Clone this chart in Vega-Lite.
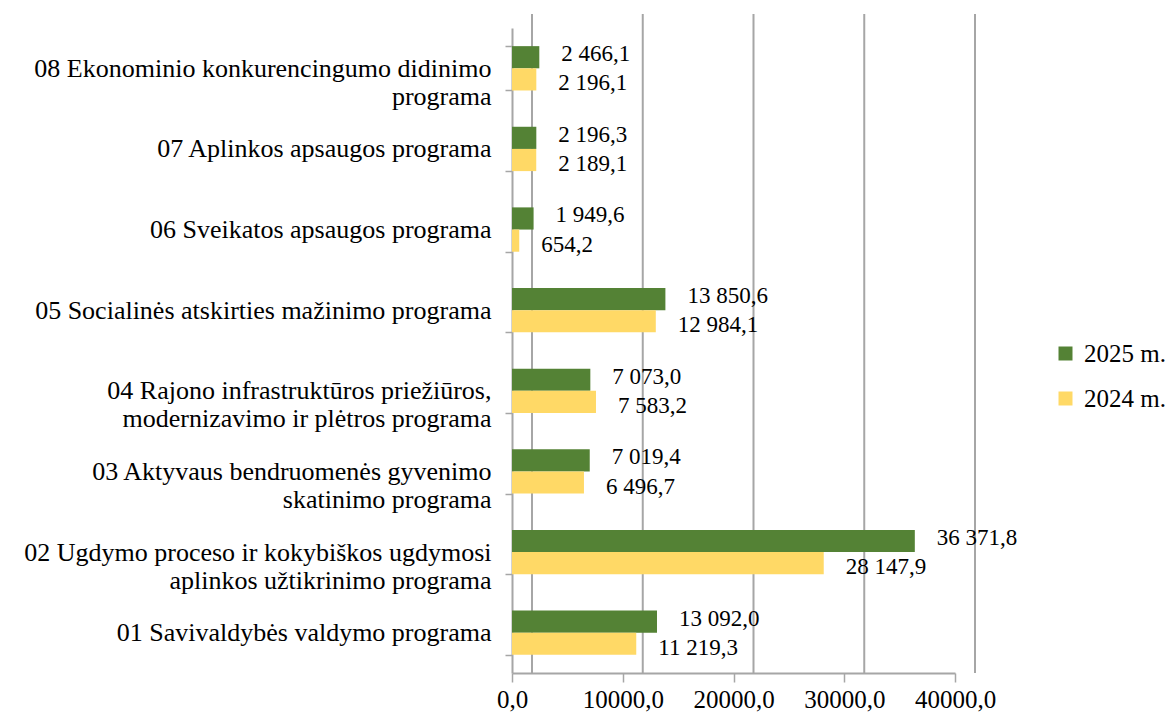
{
  "$schema": "https://vega.github.io/schema/vega-lite/v6.json",
  "width": 443,
  "height": 645,
  "autosize": "none",
  "padding": {"left": 512, "top": 28, "right": 214, "bottom": 45},
  "background": "white",
  "config": {
    "locale": {"number": {"decimal": ",", "thousands": " ", "grouping": [3], "currency": ["", ""]}},
    "font": "Times New Roman",
    "view": {"stroke": null}
  },
  "datasets": {
    "budget": [
      {"program": "08 Ekonominio konkurencingumo didinimo|programa", "year": "2025 m.", "value": 2466.1},
      {"program": "08 Ekonominio konkurencingumo didinimo|programa", "year": "2024 m.", "value": 2196.1},
      {"program": "07 Aplinkos apsaugos programa", "year": "2025 m.", "value": 2196.3},
      {"program": "07 Aplinkos apsaugos programa", "year": "2024 m.", "value": 2189.1},
      {"program": "06 Sveikatos apsaugos programa", "year": "2025 m.", "value": 1949.6},
      {"program": "06 Sveikatos apsaugos programa", "year": "2024 m.", "value": 654.2},
      {"program": "05 Socialinės atskirties mažinimo programa", "year": "2025 m.", "value": 13850.6},
      {"program": "05 Socialinės atskirties mažinimo programa", "year": "2024 m.", "value": 12984.1},
      {"program": "04 Rajono infrastruktūros priežiūros,|modernizavimo ir plėtros programa", "year": "2025 m.", "value": 7073.0},
      {"program": "04 Rajono infrastruktūros priežiūros,|modernizavimo ir plėtros programa", "year": "2024 m.", "value": 7583.2},
      {"program": "03 Aktyvaus bendruomenės gyvenimo|skatinimo programa", "year": "2025 m.", "value": 7019.4},
      {"program": "03 Aktyvaus bendruomenės gyvenimo|skatinimo programa", "year": "2024 m.", "value": 6496.7},
      {"program": "02 Ugdymo proceso ir kokybiškos ugdymosi|aplinkos užtikrinimo programa", "year": "2025 m.", "value": 36371.8},
      {"program": "02 Ugdymo proceso ir kokybiškos ugdymosi|aplinkos užtikrinimo programa", "year": "2024 m.", "value": 28147.9},
      {"program": "01 Savivaldybės valdymo programa", "year": "2025 m.", "value": 13092.0},
      {"program": "01 Savivaldybės valdymo programa", "year": "2024 m.", "value": 11219.3}
    ],
    "grid": [{"g": 0}, {"g": 10000}, {"g": 20000}, {"g": 30000}, {"g": 40000}]
  },
  "layer": [
    {
      "data": {"name": "grid"},
      "mark": {"type": "rule", "color": "#A6A6A6", "strokeWidth": 2, "xOffset": 20, "yOffset": -14},
      "encoding": {
        "x": {
          "field": "g",
          "type": "quantitative",
          "scale": {"domain": [0, 40000], "nice": false},
          "axis": {
            "title": null,
            "values": [0, 10000, 20000, 30000, 40000],
            "format": ".1f",
            "labelFont": "Times New Roman",
            "labelFontSize": 25,
            "labelColor": "#000000",
            "labelPadding": 5,
            "labelFlush": false,
            "labelOverlap": false,
            "tickSize": 9,
            "tickColor": "#A6A6A6",
            "tickWidth": 1.5,
            "domainColor": "#A6A6A6",
            "domainWidth": 2,
            "grid": false
          }
        }
      }
    },
    {
      "data": {"name": "budget"},
      "mark": {"type": "bar", "stroke": null},
      "encoding": {
        "y": {
          "field": "program",
          "type": "nominal",
          "sort": null,
          "scale": {"paddingInner": 0.45, "paddingOuter": 0.225},
          "axis": {
            "title": null,
            "labelExpr": "split(datum.label, '|')",
            "labelFont": "Times New Roman",
            "labelFontSize": 26,
            "labelColor": "#000000",
            "labelLimit": 0,
            "labelLineHeight": 28,
            "labelPadding": 14,
            "tickBand": "extent",
            "tickSize": 7,
            "tickColor": "#A6A6A6",
            "tickWidth": 1.5,
            "domainColor": "#A6A6A6",
            "domainWidth": 2,
            "grid": false
          }
        },
        "yOffset": {"field": "year", "type": "nominal", "sort": ["2025 m.", "2024 m."]},
        "x": {
          "field": "value",
          "type": "quantitative",
          "scale": {"domain": [0, 40000], "nice": false},
          "axis": {
            "title": null,
            "values": [0, 10000, 20000, 30000, 40000],
            "format": ".1f",
            "labelFont": "Times New Roman",
            "labelFontSize": 25,
            "labelColor": "#000000",
            "labelPadding": 5,
            "labelFlush": false,
            "labelOverlap": false,
            "tickSize": 9,
            "tickColor": "#A6A6A6",
            "tickWidth": 1.5,
            "domainColor": "#A6A6A6",
            "domainWidth": 2,
            "grid": false
          }
        },
        "color": {
          "field": "year",
          "type": "nominal",
          "scale": {"domain": ["2025 m.", "2024 m."], "range": ["#548235", "#FFD966"]},
          "legend": {
            "title": null,
            "orient": "none",
            "legendX": 541,
            "legendY": 313,
            "padding": 0,
            "symbolType": "square",
            "symbolSize": 196,
            "symbolStrokeWidth": 0,
            "labelFont": "Times New Roman",
            "labelFontSize": 25,
            "labelColor": "#000000",
            "labelOffset": 6,
            "rowPadding": 19
          }
        }
      }
    },
    {
      "data": {"name": "budget"},
      "transform": [{"filter": "datum.year === '2025 m.'"}],
      "mark": {"type": "text", "align": "left", "baseline": "middle", "dx": 22, "dy": -3, "font": "Times New Roman", "fontSize": 23, "color": "#000000"},
      "encoding": {
        "y": {"field": "program", "type": "nominal", "sort": null},
        "yOffset": {"field": "year", "type": "nominal", "sort": ["2025 m.", "2024 m."]},
        "x": {"field": "value", "type": "quantitative"},
        "text": {"field": "value", "type": "quantitative", "format": ",.1f"}
      }
    },
    {
      "data": {"name": "budget"},
      "transform": [{"filter": "datum.year === '2024 m.'"}],
      "mark": {"type": "text", "align": "left", "baseline": "middle", "dx": 22, "dy": 4, "font": "Times New Roman", "fontSize": 23, "color": "#000000"},
      "encoding": {
        "y": {"field": "program", "type": "nominal", "sort": null},
        "yOffset": {"field": "year", "type": "nominal", "sort": ["2025 m.", "2024 m."]},
        "x": {"field": "value", "type": "quantitative"},
        "text": {"field": "value", "type": "quantitative", "format": ",.1f"}
      }
    }
  ]
}
